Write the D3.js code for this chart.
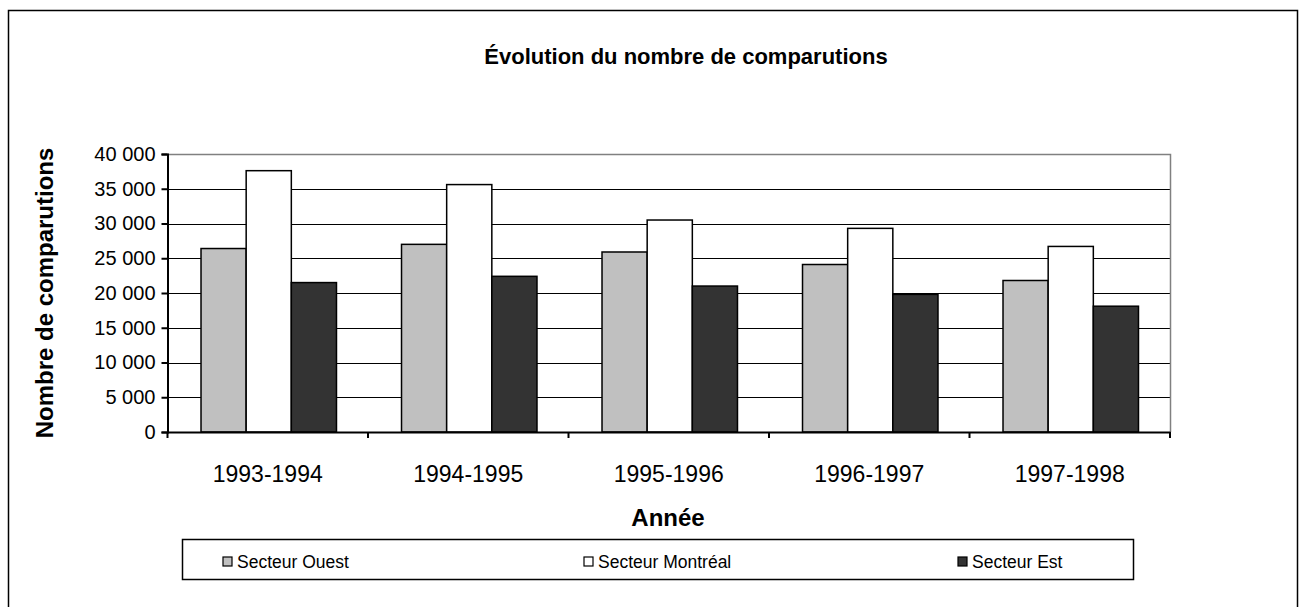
<!DOCTYPE html>
<html>
<head>
<meta charset="utf-8">
<script src="https://cdn.jsdelivr.net/npm/d3@7"></script>
<style>
  body { margin: 0; background: #fff; }
  text { font-family: "Liberation Sans", Arial, sans-serif; fill: #000; }
</style>
</head>
<body>
<div id="chart"></div>
<script>
// chart data
var years = ["1993-1994", "1994-1995", "1995-1996", "1996-1997", "1997-1998"];
var secteurs = ["Secteur Ouest", "Secteur Montréal", "Secteur Est"];
var ouest = [26400, 27000, 25900, 24100, 21800];
var montreal = [37600, 35600, 30500, 29300, 26700];
var est = [21500, 22400, 21000, 19800, 18100];
var yTicks = [0, 5000, 10000, 15000, 20000, 25000, 30000, 35000, 40000];
var colors = ["#c0c0c0", "#ffffff", "#333333"];

var w = 1299, h = 607;
var pLeft = 167.5, pRight = 1170, pTop = 154, pBottom = 432;

var svg = d3.select("#chart").append("svg")
    .attr("width", w)
    .attr("height", h);

// outer frame
svg.append("rect")
    .attr("x", 8.5).attr("y", 10.5)
    .attr("width", 1289).attr("height", 620)
    .attr("fill", "none").attr("stroke", "#000").attr("stroke-width", 1.5);

var x = d3.scaleBand().domain(years).range([pLeft, pRight]);
var xi = d3.scaleBand().domain(secteurs).range([0, x.bandwidth()])
    .paddingInner(0).paddingOuter(0.72);
var y = d3.scaleLinear().domain([0, 40000]).range([pBottom, pTop]);

var fmt = function(d) { return d3.format(",")(d).replace(",", " "); };

// gridlines
svg.append("g").selectAll("line")
    .data(yTicks.filter(function(d) { return d > 0 && d < 40000; }))
    .enter().append("line")
    .attr("x1", pLeft).attr("x2", pRight)
    .attr("y1", function(d) { return Math.round(y(d)) + 0.5; })
    .attr("y2", function(d) { return Math.round(y(d)) + 0.5; })
    .attr("stroke", "#000").attr("stroke-width", 1);

// plot border top/right
svg.append("path")
    .attr("d", "M" + pLeft + "," + (pTop + 0.5) + "H" + (pRight + 0.5) + "V" + pBottom)
    .attr("fill", "none").attr("stroke", "#808080").attr("stroke-width", 1.5);

// bars
var series = [ouest, montreal, est];
var groups = svg.append("g").selectAll("g")
    .data(series)
    .enter().append("g")
    .attr("fill", function(d, i) { return colors[i]; });

groups.selectAll("rect")
    .data(function(d, i) { return d.map(function(v, j) { return {v: v, s: i, yr: years[j]}; }); })
    .enter().append("rect")
    .attr("x", function(d) { return x(d.yr) + xi(secteurs[d.s]) + 1; })
    .attr("y", function(d) { return y(d.v); })
    .attr("width", xi.bandwidth())
    .attr("height", function(d) { return pBottom - y(d.v); })
    .attr("stroke", "#000").attr("stroke-width", 1.5);

// y axis
var yAxis = svg.append("g")
    .attr("transform", "translate(" + pLeft + ",0)")
    .call(d3.axisLeft(y).tickValues(yTicks).tickFormat(fmt).tickSize(6).tickPadding(6));
yAxis.select(".domain").attr("stroke-width", 2);
yAxis.selectAll(".tick line").attr("stroke-width", 2);
yAxis.selectAll("text").style("font-size", "20px").attr("fill", "#000");

// x axis
var xAxis = svg.append("g")
    .attr("transform", "translate(0," + pBottom + ")")
    .call(d3.axisBottom(x).tickSize(0).tickPadding(34));
xAxis.select(".domain").attr("stroke-width", 2);
xAxis.selectAll("text").style("font-size", "23px").attr("fill", "#000");
// ticks between categories
xAxis.selectAll(".sep")
    .data(years.concat(["end"]))
    .enter().append("line")
    .attr("x1", function(d, i) { return pLeft + i * x.step(); })
    .attr("x2", function(d, i) { return pLeft + i * x.step(); })
    .attr("y1", 0).attr("y2", 6)
    .attr("stroke", "#000").attr("stroke-width", 2);

// titles
svg.append("text")
    .attr("x", 686).attr("y", 64)
    .attr("text-anchor", "middle")
    .style("font-size", "22px").style("font-weight", "bold")
    .text("Évolution du nombre de comparutions");

svg.append("text")
    .attr("x", 668).attr("y", 526)
    .attr("text-anchor", "middle")
    .style("font-size", "24px").style("font-weight", "bold")
    .text("Année");

svg.append("text")
    .attr("transform", "translate(53," + ((pTop + pBottom) / 2) + ") rotate(-90)")
    .attr("text-anchor", "middle")
    .style("font-size", "24px").style("font-weight", "bold")
    .text("Nombre de comparutions");

// legend
var legend = svg.append("g");
legend.append("rect")
    .attr("x", 182.5).attr("y", 539.5)
    .attr("width", 951).attr("height", 40)
    .attr("fill", "#fff").attr("stroke", "#000").attr("stroke-width", 1.5);

var legX = [223, 584, 958];
var items = legend.selectAll(".item")
    .data(secteurs)
    .enter().append("g")
    .attr("transform", function(d, i) { return "translate(" + legX[i] + ",562)"; });
items.append("rect")
    .attr("x", 0).attr("y", -5)
    .attr("width", 9).attr("height", 9)
    .attr("fill", function(d, i) { return colors[i]; })
    .attr("stroke", "#000").attr("stroke-width", 1.2);
items.append("text")
    .attr("x", 14).attr("y", 6)
    .style("font-size", "17.5px")
    .text(function(d) { return d; });
</script>
</body>
</html>
